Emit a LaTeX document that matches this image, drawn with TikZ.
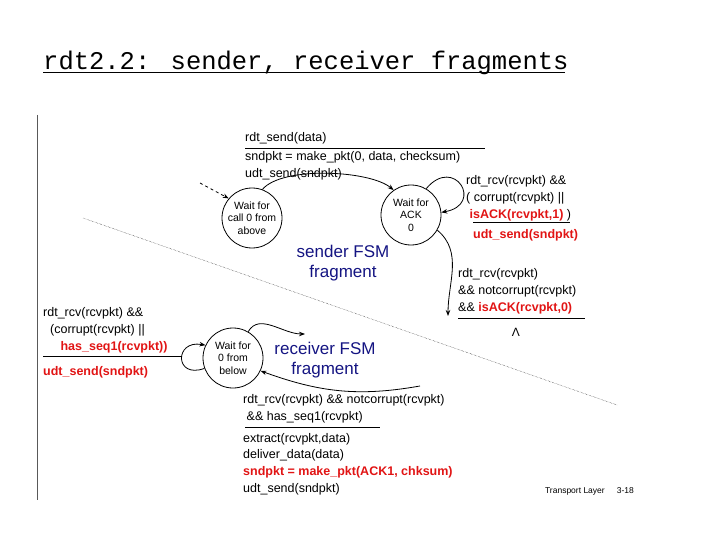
\documentclass[tikz,border=0pt]{standalone}
\usepackage{fontspec}
\setmainfont{Liberation Sans}
\newfontfamily\titlefont{Liberation Mono}
\usetikzlibrary{arrows.meta}
\definecolor{fsmRed}{RGB}{225,20,20}
\definecolor{fsmBlue}{RGB}{20,20,130}
\begin{document}
\begin{tikzpicture}[x=1pt, y=-1pt,
    stateStyle/.style={circle, draw, thick, minimum size=60pt, inner sep=0pt, align=center, font=\fontsize{10.5}{12.5}\selectfont},
    labelStyle/.style={anchor=west, inner sep=0pt, align=left, font=\fontsize{12.5}{16.8}\selectfont},
    fsmStyle/.style={align=center, text=fsmBlue, font=\fontsize{17}{20}\selectfont},
    arrowStyle/.style={-{Stealth[length=6pt]}, thick}]
    \useasboundingbox (0,0) rectangle (720,540);
    \node[anchor=base west, inner sep=0pt, font=\titlefont\fontsize{25.5}{28}\selectfont] (title) at (43,70) {rdt2.2: sender, receiver fragments};
    \draw[thick] (title.south west) ++(0,-3) -- ++(522,0);
    \draw[thick, gray!70!black] (37,115) -- (37,500);
    \draw[densely dotted] (83,218) -- (617,405);

    \node[stateStyle] (wait_call) at (252,218) {Wait for\\call 0 from\\above};
    \node[stateStyle] (wait_ack)  at (411,215) {Wait for\\ACK\\0};
    \node[stateStyle] (wait_below) at (233,358) {Wait for\\0 from\\below};
    \coordinate (start) at (200,183);
    \coordinate (to_right) at (305,334);
    \coordinate (from_right) at (420,386);
    \coordinate (down_end) at (448,316);

    \node[labelStyle] (send_lbl) at (245,138) {rdt\_send(data)};
    \draw[thick] (245,148) -- (485,148);
    \node[labelStyle] (send_act) at (245,166) {sndpkt = make\_pkt(0, data, checksum)\\udt\_send(sndpkt)};
    \node[labelStyle] (loop_lbl) at (466,198) {rdt\_rcv(rcvpkt) \&\&\\( corrupt(rcvpkt) ||\\ \ \textcolor{fsmRed}{\textbf{isACK(rcvpkt,1)}} )};
    \draw[thick] (473,222) -- (570,222);
    \node[labelStyle, text=fsmRed, font=\fontsize{12.5}{15}\selectfont\bfseries] (loop_act) at (473,235) {udt\_send(sndpkt)};
    \node[labelStyle] (ack_lbl) at (458,291) {rdt\_rcv(rcvpkt)\\\&\& notcorrupt(rcvpkt)\\\&\& \textcolor{fsmRed}{\textbf{isACK(rcvpkt,0)}}};
    \draw[thick] (458,318) -- (585,318);
    \node[font=\fontsize{12}{14}\selectfont] (lambda) at (516,332) {Λ};
    \node[fsmStyle] (sender_fsm) at (343,263) {sender FSM\\fragment};

    \node[labelStyle] (recv_lbl) at (43,330) {rdt\_rcv(rcvpkt) \&\&\\ \ \ (corrupt(rcvpkt) ||\\ \ \ \ \ \ \textcolor{fsmRed}{\textbf{has\_seq1(rcvpkt))}}};
    \draw[thick] (43,356) -- (182,356);
    \node[labelStyle, text=fsmRed, font=\fontsize{12.5}{15}\selectfont\bfseries] (recv_act) at (43,372) {udt\_send(sndpkt)};
    \node[fsmStyle] (receiver_fsm) at (325,360) {receiver FSM\\fragment};
    \node[labelStyle] (bottom_lbl) at (243,409) {rdt\_rcv(rcvpkt) \&\& notcorrupt(rcvpkt)\\ \ \&\& has\_seq1(rcvpkt)};
    \draw[thick] (245,427) -- (380,427);
    \node[labelStyle] (bottom_act) at (243,464) {extract(rcvpkt,data)\\deliver\_data(data)\\\textcolor{fsmRed}{\textbf{sndpkt = make\_pkt(ACK1, chksum)}}\\udt\_send(sndpkt)};
    \node[anchor=east, inner sep=0pt, font=\fontsize{8.5}{10}\selectfont] (footer) at (634,491) {Transport Layer\hspace{12pt}3-18};

    \draw[arrowStyle, dashed] (start) -- (wait_call.140);
    \draw[arrowStyle] (wait_call.70) to[out=50, in=140, looseness=0.6] (wait_ack.125);
    \draw[arrowStyle] (wait_ack.60) to[out=50, in=10, looseness=4] (wait_ack.5);
    \draw[arrowStyle] (wait_ack.-30) to[out=-40, in=90] (down_end);
    \draw[arrowStyle] (wait_below.-160) to[out=-160, in=170, looseness=3.5] (wait_below.155);
    \draw[arrowStyle] (wait_below.60) to[out=60, in=180] (to_right);
    \draw[arrowStyle] (from_right) to[out=190, in=-20] (wait_below.-25);
\end{tikzpicture}
\end{document}
